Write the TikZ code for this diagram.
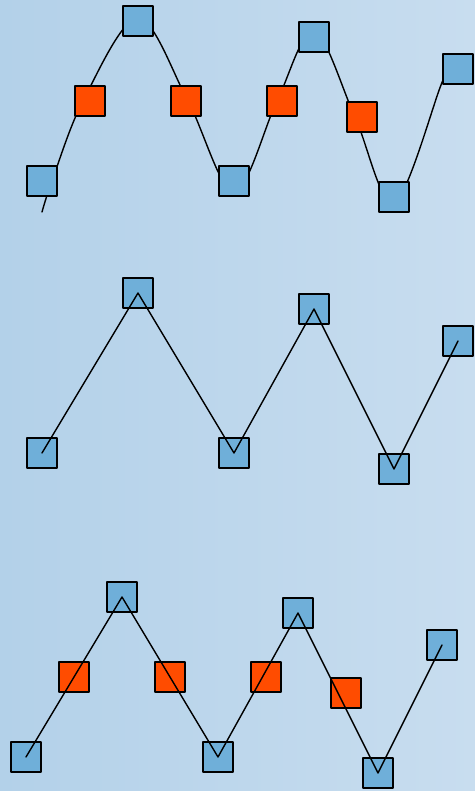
\documentclass[tikz,border=0pt]{standalone}
\definecolor{bgleft}{RGB}{179,209,233}
\definecolor{bgright}{RGB}{200,221,239}
\definecolor{ptblue}{RGB}{111,175,217}
\definecolor{ptorange}{RGB}{255,76,0}
\begin{document}
\begin{tikzpicture}[line cap=round,line join=round,x=0.02cm,y=-0.02cm,
  pt/.style={draw,line width=1.1pt,inner sep=0pt,minimum size=0.61cm,fill=ptblue},
  ctl/.style={pt,fill=ptorange},
  wave/.style={line width=0.8pt}]
\shade[left color=bgleft,right color=bgright] (0,0) rectangle (475,791);
% top: smooth curve behind the points
\draw [wave] plot[smooth,tension=0.55] coordinates {(42,212) (52,181) (83,101) (138,18) (188,101) (234,192) (277,101) (314,31) (355,117) (394,203) (441,85) (451,60)};
\node [pt] (t1) at (42,181) {};
\node [pt] (t2) at (138,21) {};
\node [pt] (t3) at (234,181) {};
\node [pt] (t4) at (314,37) {};
\node [pt] (t5) at (394,197) {};
\node [pt] (t6) at (458,69) {};
\node [ctl] (tc1) at (90,101) {};
\node [ctl] (tc2) at (186,101) {};
\node [ctl] (tc3) at (282,101) {};
\node [ctl] (tc4) at (362,117) {};
% middle: straight segments
\node [pt] (m1) at (42,453) {};
\node [pt] (m2) at (138,293) {};
\node [pt] (m3) at (234,453) {};
\node [pt] (m4) at (314,309) {};
\node [pt] (m5) at (394,469) {};
\node [pt] (m6) at (458,341) {};
\draw [wave] (m1.center) -- (m2.center) -- (m3.center) -- (m4.center) -- (m5.center) -- (m6.center);
% bottom: straight segments with the orange points
\node [pt] (b1) at (26,757) {};
\node [pt] (b2) at (122,597) {};
\node [pt] (b3) at (218,757) {};
\node [pt] (b4) at (298,613) {};
\node [pt] (b5) at (378,773) {};
\node [pt] (b6) at (442,645) {};
\node [ctl] (bc1) at (74,677) {};
\node [ctl] (bc2) at (170,677) {};
\node [ctl] (bc3) at (266,677) {};
\node [ctl] (bc4) at (346,693) {};
\draw [wave] (b1.center) -- (b2.center) -- (b3.center) -- (b4.center) -- (b5.center) -- (b6.center);
\end{tikzpicture}
\end{document}
